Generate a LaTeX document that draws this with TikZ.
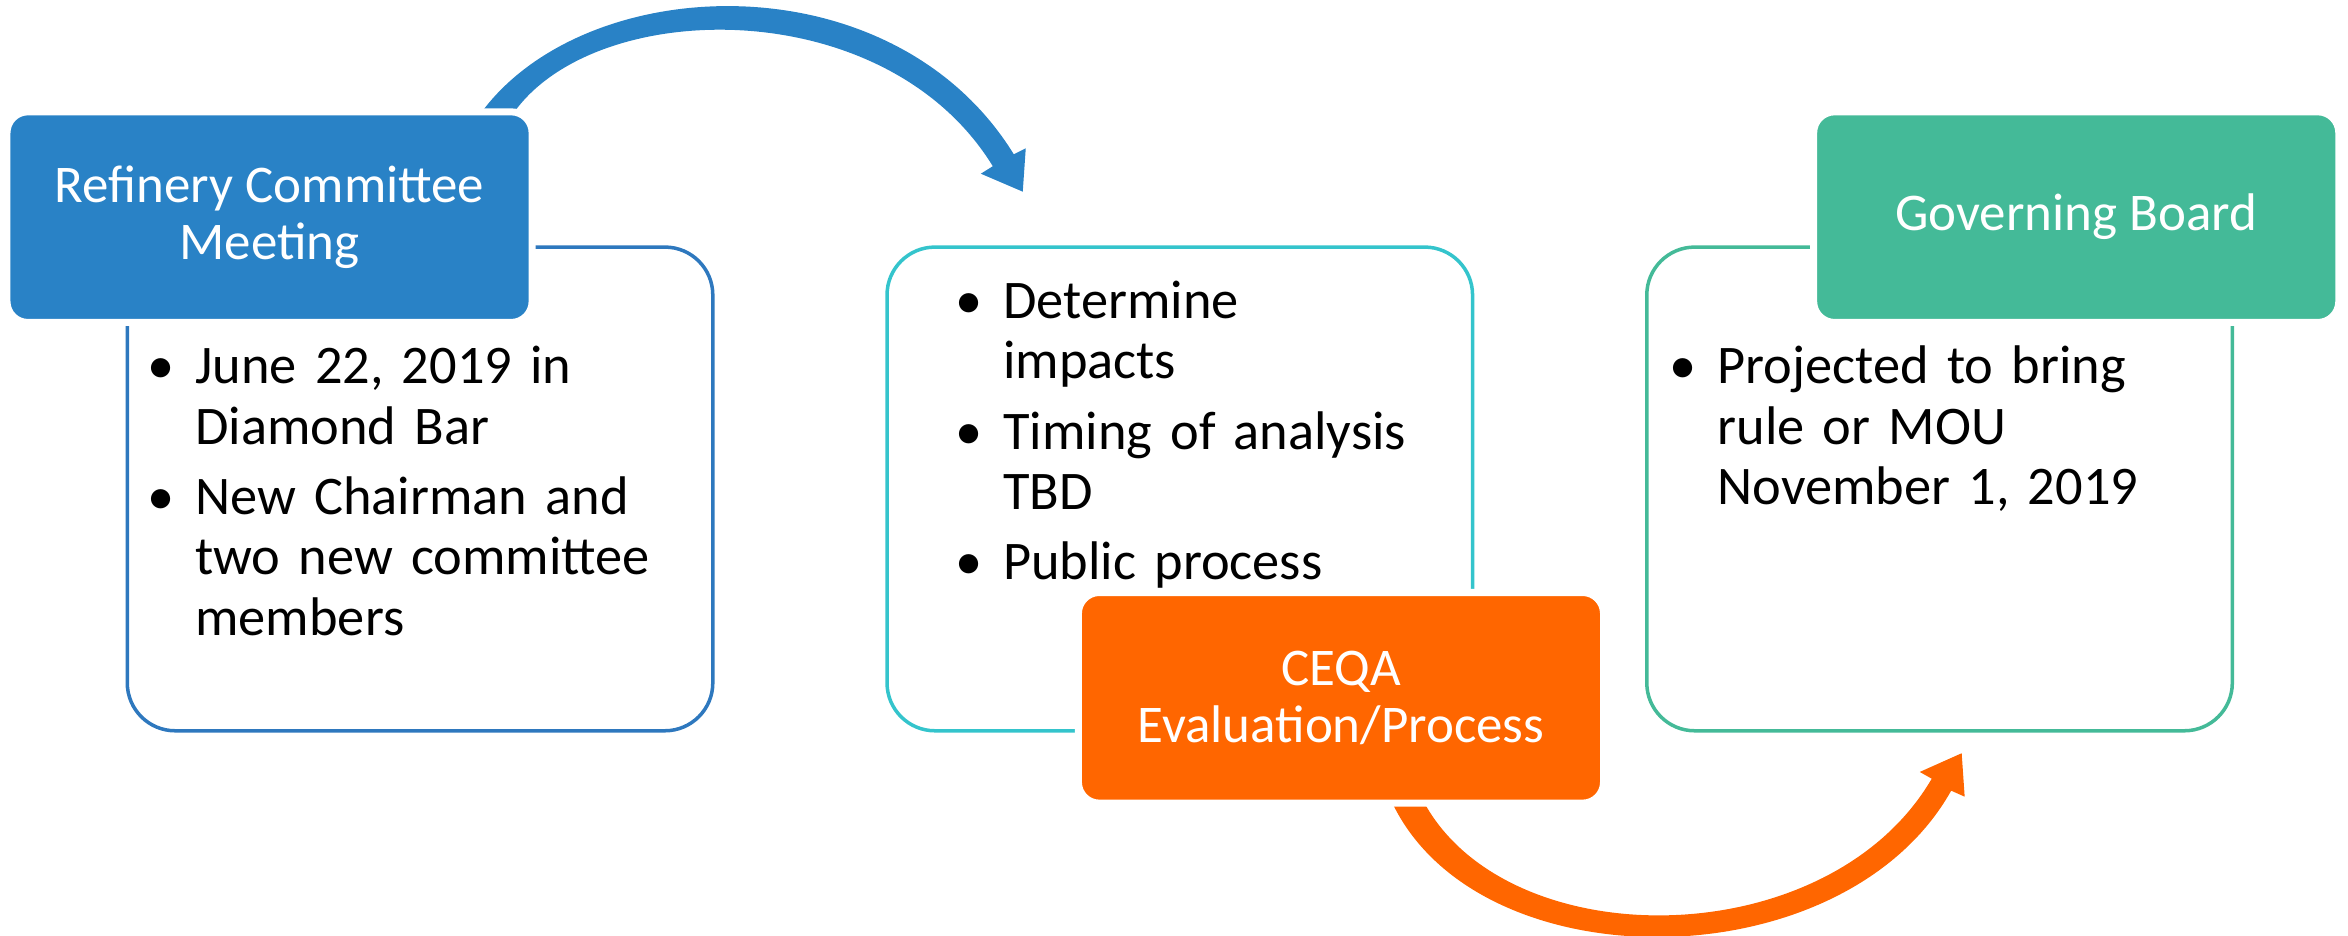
\documentclass[tikz,border=0pt]{standalone}
\usepackage{fontspec}
\setmainfont{Carlito}
\usetikzlibrary{positioning}
\definecolor{rcblue}{RGB}{41,130,198}
\definecolor{rcline}{RGB}{46,120,190}
\definecolor{rcteal}{RGB}{52,196,204}
\definecolor{rcorange}{RGB}{255,102,0}
\definecolor{rcgreen}{RGB}{68,186,152}
\tikzset{
  panel/.style={draw, line width=1pt, rounded corners=0.48cm, minimum width=5.865cm, minimum height=4.845cm, inner sep=0pt},
  head/.style={draw=white, line width=2pt, rounded corners=0.21cm, minimum width=5.26cm, minimum height=2.11cm, align=center, text=white, font=\fontsize{15.1}{16.4}\selectfont},
  items/.style={anchor=base west, text width=6cm, align=left, inner sep=0pt, font=\fontsize{15.5}{17.3}\selectfont},
}
\newcommand{\bul}{\leavevmode\llap{\makebox[0.69cm]{\textbullet}}}

\begin{document}
\begin{tikzpicture}[x=0.015cm,y=-0.015cm]
  \useasboundingbox (0,0) rectangle (1568,625);
  % Define panels
  \node[panel, draw=rcline] (b1) at (280.5,326.5) {};
  \node[panel, draw=rcteal, right=1.71cm of b1] (b2) {};
  \node[panel, draw=rcgreen, right=1.71cm of b2] (b3) {};
  % Curved arrows
  \fill[rcblue] (318,80) .. controls (385,-20) and (595,-30) .. (677,103)
    -- (685,99) -- (683,128) -- (655,116) -- (663,111)
    .. controls (590,-8) and (390,-2) .. (340,80) -- cycle;
  \fill[rcorange] (927,530) .. controls (980,658) and (1230,658) .. (1303,528)
    -- (1312,532) -- (1310,503) -- (1282,515.5) -- (1290,520)
    .. controls (1220,640) and (1000,640) .. (948,530) -- cycle;
  % Define headers
  \node[head, fill=rcblue] (h1) at (180,145) {Refinery Committee\\Meeting};
  \node[head, fill=rcorange] (h2) at (895.5,466) {CEQA\\Evaluation/Process};
  \node[head, fill=rcgreen] (h3) at (1386.5,145) {Governing Board};
  % Bullet texts
  \node[items] (t1) at (130,256) {\bul June 22, 2019 in\\Diamond Bar\\[2.7pt]\bul New Chairman and\\two new committee\\members};
  \node[items] (t2) at (669.5,212.5) {\bul Determine\\impacts\\[2.7pt]\bul Timing of analysis\\TBD\\[2.7pt]\bul Public process};
  \node[items] (t3) at (1146.6,256) {\bul Projected to bring\\rule or MOU\\November 1, 2019};
\end{tikzpicture}
\end{document}
